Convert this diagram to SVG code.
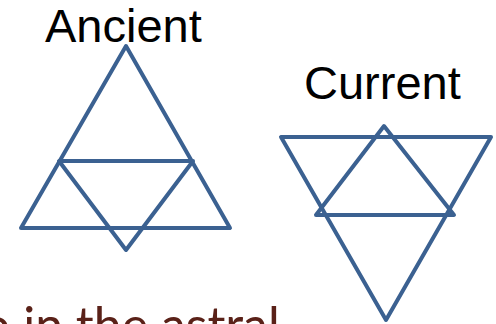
<svg xmlns="http://www.w3.org/2000/svg" width="496" height="324" viewBox="0 0 496 324">
<style>
.tri{fill:none;stroke:#3B6191;stroke-width:4;stroke-linejoin:round;stroke-linecap:round}
.lbl{font-family:"Liberation Sans",Arial,sans-serif;font-size:47px;fill:#000}
.body{font-family:Lato,"Open Sans",sans-serif;font-size:50px;fill:#5A2118}
</style>
<rect width="496" height="324" fill="#fff"/>
<g id="ancient">
<text class="lbl" x="45" y="42">Ancient</text>
<polygon class="tri" points="126,46 230,228 21,228"/>
<polygon class="tri" points="59,161 193,161 126,250"/>
</g>
<g id="current">
<text class="lbl" x="304" y="99">Current</text>
<polygon class="tri" points="281,137 491,137 386,320"/>
<polygon class="tri" points="384,126 454,215 316,215"/>
</g>
<text class="body" x="-18" y="343">o in the astral</text>
</svg>
